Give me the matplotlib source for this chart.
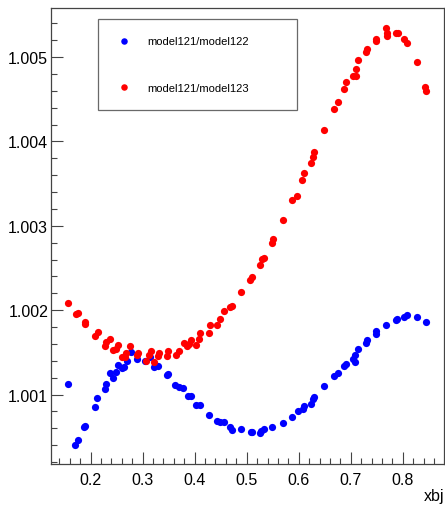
import matplotlib
matplotlib.use('Agg')
import matplotlib.pyplot as plt
from matplotlib.ticker import MultipleLocator, FormatStrFormatter

plt.rcParams['font.family'] = ['Liberation Sans', 'DejaVu Sans']

# model121/model122
x_blue = [0.157, 0.170, 0.176, 0.188, 0.190, 0.209, 0.213, 0.2275, 0.229, 0.238,
          0.243, 0.249, 0.2525, 0.260, 0.264, 0.270, 0.2775, 0.2885, 0.305, 0.314,
          0.322, 0.330, 0.346, 0.349, 0.363, 0.370, 0.378, 0.388, 0.3935, 0.403,
          0.410, 0.428, 0.442, 0.449, 0.456, 0.4685, 0.472, 0.489, 0.5077, 0.511,
          0.525, 0.528, 0.533, 0.549, 0.570, 0.588, 0.599, 0.608, 0.610, 0.623,
          0.628, 0.630, 0.6487, 0.667, 0.675, 0.688, 0.690, 0.704, 0.709, 0.709,
          0.714, 0.729, 0.731, 0.748, 0.749, 0.7685, 0.7865, 0.7897, 0.803, 0.809,
          0.828, 0.844]
y_blue = [1.00113, 1.00040, 1.00046, 1.00061, 1.00063, 1.00085, 1.00096, 1.00107, 1.00112, 1.00126,
          1.00120, 1.00127, 1.00135, 1.00132, 1.00133, 1.00140, 1.00150, 1.00142, 1.00140, 1.00144,
          1.00133, 1.00134, 1.00123, 1.00124, 1.00111, 1.00109, 1.00108, 1.00098, 1.00098, 1.00087,
          1.00087, 1.00076, 1.00069, 1.00068, 1.00068, 1.00061, 1.00058, 1.00059, 1.00055, 1.00056,
          1.00054, 1.00057, 1.00059, 1.00061, 1.00066, 1.00073, 1.00081, 1.00083, 1.00086, 1.00089,
          1.00095, 1.00097, 1.00110, 1.00122, 1.00126, 1.00134, 1.00136, 1.00142, 1.00139, 1.00147,
          1.00154, 1.00161, 1.00165, 1.00172, 1.00175, 1.00182, 1.00188, 1.00190, 1.00192, 1.00194,
          1.00192, 1.00186]

# model121/model123
x_red = [0.157, 0.171, 0.175, 0.1885, 0.190, 0.209, 0.2135, 0.228, 0.2295, 0.238,
         0.2435, 0.2487, 0.252, 0.260, 0.2655, 0.2685, 0.276, 0.2897, 0.2915, 0.3057,
         0.3115, 0.3155, 0.3223, 0.329, 0.331, 0.346, 0.3487, 0.3635, 0.369, 0.379,
         0.3846, 0.389, 0.3935, 0.402, 0.408, 0.410, 0.427, 0.430, 0.442, 0.449,
         0.456, 0.4685, 0.472, 0.489, 0.507, 0.5096, 0.5256, 0.529, 0.5333, 0.5487,
         0.5506, 0.569, 0.5877, 0.597, 0.607, 0.610, 0.623, 0.628, 0.630, 0.648,
         0.667, 0.675, 0.6877, 0.690, 0.7044, 0.7096, 0.7096, 0.714, 0.7288, 0.7308,
         0.748, 0.749, 0.768, 0.769, 0.770, 0.7865, 0.790, 0.803, 0.809, 0.828,
         0.843, 0.845]
y_red = [1.00209, 1.00196, 1.00197, 1.00184, 1.00186, 1.00169, 1.00174, 1.00157, 1.00162, 1.00166,
         1.00153, 1.00154, 1.00159, 1.00144, 1.00144, 1.00149, 1.00157, 1.00147, 1.00149, 1.00140,
         1.00147, 1.00151, 1.00138, 1.00146, 1.00149, 1.00146, 1.00151, 1.00147, 1.00151, 1.00161,
         1.00157, 1.00160, 1.00165, 1.00159, 1.00166, 1.00173, 1.00173, 1.00182, 1.00182, 1.00190,
         1.00199, 1.00204, 1.00205, 1.00222, 1.00236, 1.00239, 1.00253, 1.00261, 1.00262, 1.00280,
         1.00284, 1.00307, 1.00331, 1.00335, 1.00354, 1.00362, 1.00374, 1.00382, 1.00387, 1.00413,
         1.00438, 1.00447, 1.00462, 1.00471, 1.00478, 1.00478, 1.00486, 1.00496, 1.00506, 1.00510,
         1.00519, 1.00521, 1.00535, 1.00528, 1.00525, 1.00528, 1.00529, 1.00521, 1.00517, 1.00494,
         1.00464, 1.00460]

fig = plt.figure(figsize=(4.45, 5.06), dpi=100)
ax = fig.add_axes([0.1146, 0.0816, 0.8832, 0.9014])

ax.plot(x_blue, y_blue, 'o', color='#0000ff', markersize=5.2, markeredgewidth=0,
        label='model121/model122')
ax.plot(x_red, y_red, 'o', color='#ff0000', markersize=5.2, markeredgewidth=0,
        label='model121/model123')

ax.set_xlim(0.1237, 0.8794)
ax.set_ylim(1.00018, 1.005586)

ax.xaxis.set_major_locator(MultipleLocator(0.1))
ax.xaxis.set_minor_locator(MultipleLocator(0.02))
ax.yaxis.set_major_locator(MultipleLocator(0.001))
ax.yaxis.set_minor_locator(MultipleLocator(0.0002))
ax.xaxis.set_major_formatter(FormatStrFormatter('%.1f'))
ax.yaxis.set_major_formatter(FormatStrFormatter('%.3f'))

ax.tick_params(which='both', direction='in', top=False, right=False, color='#444444', width=0.8)
ax.tick_params(which='major', length=8.5)
ax.tick_params(which='minor', length=4.5)
ax.tick_params(axis='x', labelsize=11.5, pad=6)
ax.tick_params(axis='y', labelsize=11.5, pad=2)
for s in ax.spines.values():
    s.set_color('#444444')
    s.set_linewidth(0.9)

fig.text(0.998, 0.004, 'xbj', ha='right', va='bottom', fontsize=11.5)

leg = ax.legend(loc='upper left', bbox_to_anchor=(97.7 / 445, 1 - 19.7 / 506, 199.3 / 445, 0.0),
                bbox_transform=fig.transFigure, mode='expand', fontsize=8, numpoints=1,
                borderpad=1.6, handlelength=1.5, handletextpad=1.4, labelspacing=3.25,
                fancybox=False, borderaxespad=0, markerscale=0.9)
leg.get_frame().set_edgecolor('#444444')
leg.get_frame().set_linewidth(0.9)

fig.savefig('out.png', dpi=100)
